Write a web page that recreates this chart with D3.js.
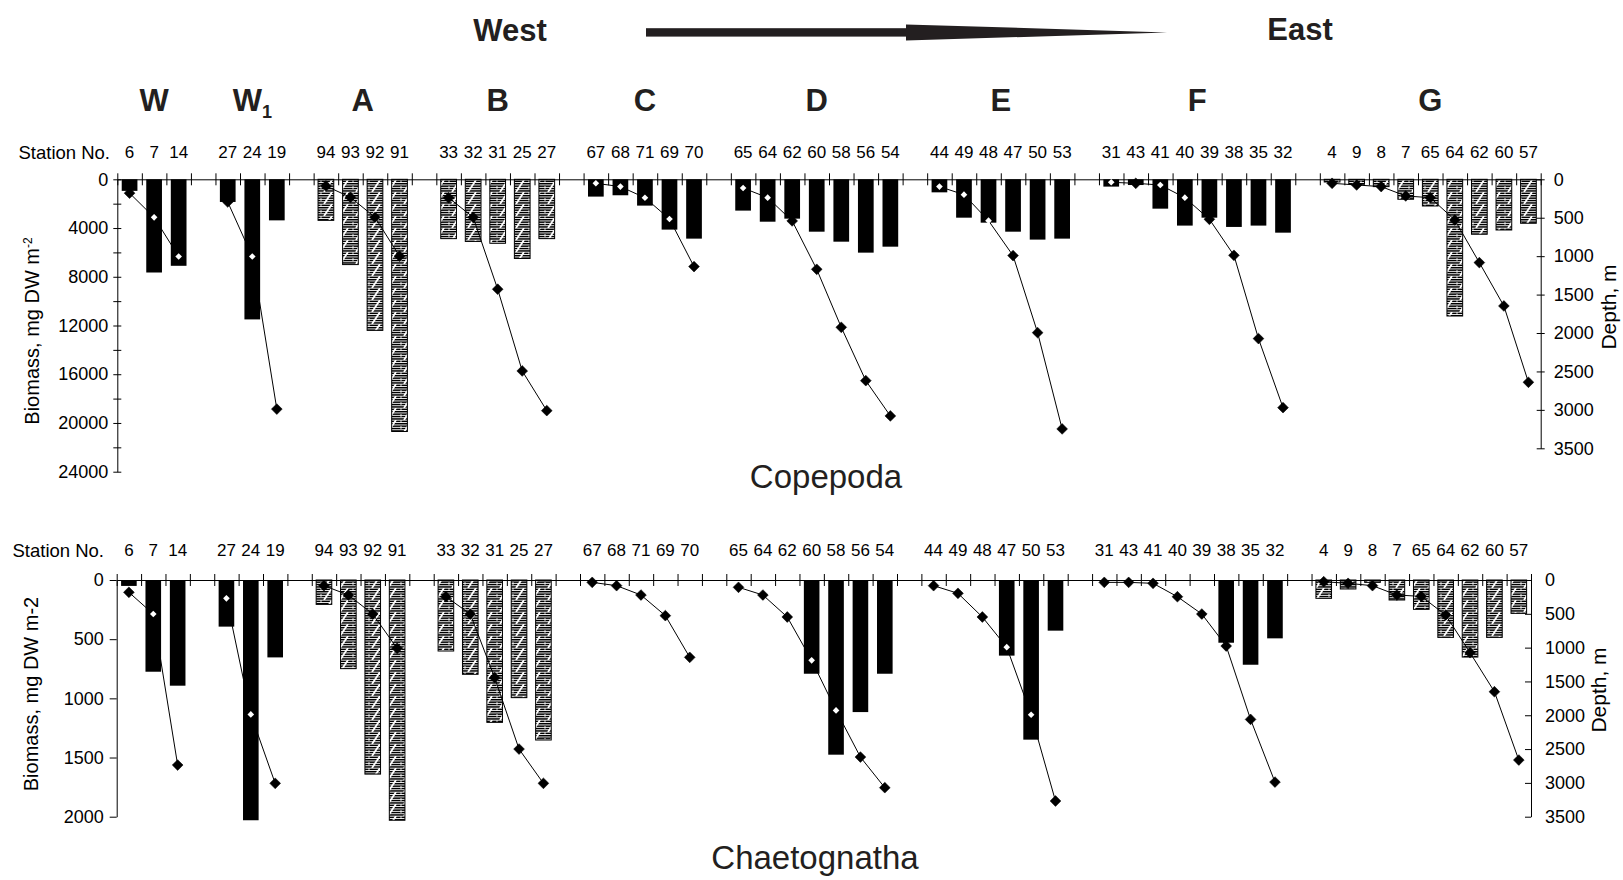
<!DOCTYPE html>
<html>
<head>
<meta charset="utf-8">
<script src="https://cdn.jsdelivr.net/npm/d3@7"></script>
<style>
    body { margin: 0; background: #fff; }
    text { font-family: "Liberation Sans", Arial, sans-serif; }
</style>
</head>
<body>
<div id="plot"></div>
<script>
/* Step 1
 * The data
 */
// =================================
var groups = ["W", "W1", "A", "B", "C", "D", "E", "F", "G"];
var stations = [
    [6, 7, 14],
    [27, 24, 19],
    [94, 93, 92, 91],
    [33, 32, 31, 25, 27],
    [67, 68, 71, 69, 70],
    [65, 64, 62, 60, 58, 56, 54],
    [44, 49, 48, 47, 50, 53],
    [31, 43, 41, 40, 39, 38, 35, 32],
    [4, 9, 8, 7, 65, 64, 62, 60, 57]
];
// groups drawn with the hatched fill
var hatchedGroups = ["A", "B", "G"];

// Copepoda biomass, mg DW m-2
var copepodaBiomass = [
    [950, 7650, 7100],
    [1860, 11500, 3370],
    [3370, 7000, 12400, 20700],
    [4870, 5100, 5250, 6500, 4870],
    [1420, 1310, 2160, 4130, 4870],
    [2570, 3480, 3230, 4300, 5120, 6020, 5530],
    [1070, 3150, 3560, 4300, 4950, 4870],
    [600, 470, 2410, 3800, 3150, 3910, 3800, 4380],
    [220, 410, 600, 1640, 2190, 11220, 4510, 4160, 3610]
];
// station depth, m (as plotted in the Copepoda panel)
var copepodaDepth = [
    [180, 495, 1005],
    [295, 1005, 2990],
    [87, 234, 494, 1000],
    [240, 494, 1430, 2494, 3010],
    [52, 95, 240, 516, 1136],
    [113, 239, 542, 1171, 1926, 2620, 3079],
    [95, 200, 538, 993, 1995, 3248],
    [39, 52, 74, 239, 520, 989, 2073, 2971],
    [52, 74, 95, 217, 239, 529, 1084, 1648, 2641]
];

// Chaetognatha biomass, mg DW m-2
var chaetoBiomass = [
    [50, 775, 893],
    [394, 2030, 654],
    [206, 749, 1640, 2030],
    [600, 797, 1203, 994, 1352],
    [0, 0, 0, 0, 0],
    [0, 0, 0, 792, 1476, 1116, 792],
    [0, 0, 0, 639, 1349, 428],
    [0, 0, 0, 0, 0, 530, 716, 493],
    [155, 76, 20, 169, 248, 485, 651, 485, 282]
];
// station depth, m (as plotted in the Chaetognatha panel)
var chaetoDepth = [
    [182, 503, 2736],
    [271, 1987, 3007],
    [84, 222, 503, 1011],
    [247, 503, 1444, 2500, 3007],
    [35, 84, 222, 527, 1144],
    [108, 222, 547, 1188, 1928, 2618, 3071],
    [84, 197, 547, 993, 1992, 3268],
    [35, 35, 49, 247, 503, 976, 2061, 2988],
    [25, 49, 84, 222, 242, 518, 1075, 1652, 2662]
];

var biomassTicksTop = [0, 2000, 4000, 6000, 8000, 10000, 12000, 14000, 16000, 18000, 20000, 22000, 24000];
var biomassTicksBottom = [0, 500, 1000, 1500, 2000];
var depthTicks = [0, 500, 1000, 1500, 2000, 2500, 3000, 3500];

/* Step 2
 * Slots: one per station, an empty one between groups
 */
// =================================
var slots = [];
var slotIndex = 0;
groups.forEach(function (g, gi) {
    stations[gi].forEach(function (s, si) {
        slots.push({ group: g, gi: gi, si: si, station: s, slot: slotIndex });
        slotIndex++;
    });
    if (gi < groups.length - 1) slotIndex++;
});
var nSlots = slotIndex;

var svg = d3.select("#plot")
    .append("svg")
    .attr("width", 1623)
    .attr("height", 880);

// hatched fill: horizontal dashes broken by a steep white zigzag
var pattern = svg.append("defs").append("pattern")
    .attr("id", "hatch")
    .attr("patternUnits", "userSpaceOnUse")
    .attr("width", 16)
    .attr("height", 12);
pattern.append("rect").attr("width", 16).attr("height", 12).attr("fill", "#fff");
[0.6, 3.0, 5.4, 7.8, 10.2].forEach(function (yy) {
    pattern.append("rect").attr("x", 0).attr("y", yy).attr("width", 16).attr("height", 1.5).attr("fill", "#000");
});
pattern.append("path").attr("d", "M12,0 L4,12").attr("stroke", "#fff").attr("stroke-width", 1.8);
pattern.append("path").attr("d", "M1,0 L1,12").attr("stroke", "#fff").attr("stroke-width", 0.8).attr("stroke-dasharray", "3,3");

/* Step 3
 * One panel: bars, zero axis, left and right axes, depth lines
 */
// =================================
function drawPanel(p) {
    var g = svg.append("g");

    var x = d3.scaleBand()
        .domain(d3.range(nSlots))
        .range([p.x0, p.x1])
        .paddingInner(0.36)
        .paddingOuter(0.18);
    var xEdge = d3.scaleLinear().domain([0, nSlots]).range([p.x0, p.x1]);
    var yBio = d3.scaleLinear().domain([0, p.bioMax]).range([p.y0, p.bioEnd]);
    var yDep = d3.scaleLinear().domain([0, 3500]).range([p.y0, p.depEnd]);
    var cx = d => x(d.slot) + x.bandwidth() / 2;
    var isHatched = d => hatchedGroups.indexOf(d.group) >= 0;

    // bars
    g.selectAll(".bar")
        .data(slots.filter(d => p.biomass[d.gi][d.si] > 0))
        .enter().append("rect")
        .attr("x", d => x(d.slot))
        .attr("y", p.y0)
        .attr("width", x.bandwidth())
        .attr("height", d => yBio(p.biomass[d.gi][d.si]) - p.y0)
        .attr("fill", d => isHatched(d) ? "url(#hatch)" : "#000")
        .attr("stroke", d => isHatched(d) ? "#000" : "none")
        .attr("stroke-width", 1);

    // zero line with a tick between every slot
    var gx = g.append("g")
        .attr("transform", `translate(0, ${p.y0})`)
        .call(d3.axisBottom(xEdge).tickValues(d3.range(nSlots + 1)).tickSize(6).tickSizeOuter(0).tickFormat(""));
    gx.selectAll(".tick line").attr("y1", -6).attr("stroke", "#000");
    gx.select(".domain").attr("stroke", "#000");

    // station numbers
    g.selectAll(".stn")
        .data(slots)
        .enter().append("text")
        .attr("x", cx)
        .attr("y", p.labelY)
        .attr("text-anchor", "middle")
        .attr("font-size", "17px")
        .attr("fill", "#000")
        .text(d => d.station);
    g.append("text")
        .attr("x", p.stationX)
        .attr("y", p.labelY + 1)
        .attr("text-anchor", "end")
        .attr("font-size", "18.5px")
        .text("Station No.");

    // left axis
    var gl = g.append("g")
        .attr("transform", `translate(${p.x0}, 0)`)
        .call(d3.axisLeft(yBio).tickValues(p.bioTicks).tickSize(p.leftTick).tickPadding(p.leftPad)
            .tickSizeOuter(0).tickFormat(v => v % p.labelEvery === 0 ? v : ""));
    gl.selectAll(".tick line").attr("x2", -p.leftTick).attr("x1", p.leftCross).attr("stroke", "#000");
    gl.selectAll("text").attr("font-size", "18px").attr("font-family", null).attr("fill", "#000");
    gl.select(".domain").attr("stroke", "#000");

    // right axis
    var gr = g.append("g")
        .attr("transform", `translate(${p.x1}, 0)`)
        .call(d3.axisRight(yDep).tickValues(depthTicks).tickSize(p.rightTick).tickPadding(p.rightPad)
            .tickSizeOuter(0).tickFormat(d3.format("d")));
    gr.selectAll(".tick line").attr("x1", -p.rightIn).attr("stroke", "#000");
    gr.selectAll("text").attr("font-size", "18px").attr("font-family", null).attr("fill", "#000");
    gr.select(".domain").attr("stroke", "#000");

    // depth lines, one per group
    var line = d3.line()
        .x(cx)
        .y(d => yDep(p.depth[d.gi][d.si]));
    groups.forEach(function (gName, gi) {
        g.append("path")
            .datum(slots.filter(d => d.gi === gi))
            .attr("d", line)
            .attr("fill", "none")
            .attr("stroke", "#000")
            .attr("stroke-width", 1);
    });

    // depth markers: white where they sit inside a black bar
    var inside = d => !isHatched(d) && yDep(p.depth[d.gi][d.si]) < yBio(p.biomass[d.gi][d.si]) - 2;
    g.selectAll(".mk")
        .data(slots)
        .enter().append("path")
        .attr("d", d => d3.symbol().type(d3.symbolSquare).size(inside(d) ? 22 : 58)())
        .attr("transform", d => `translate(${cx(d)}, ${yDep(p.depth[d.gi][d.si])}) rotate(45)`)
        .attr("fill", d => inside(d) ? "#fff" : "#000")
        .attr("stroke", d => inside(d) ? "none" : "#000")
        .attr("stroke-width", 0.5);

    // axis titles
    var lt = g.append("text")
        .attr("transform", `translate(${p.leftTitleX}, ${p.leftTitleY}) rotate(-90)`)
        .attr("text-anchor", "middle")
        .attr("font-size", "20px")
        .text(p.leftTitle);
    if (p.superscript) {
        lt.append("tspan").attr("dy", "-0.6em").attr("font-size", "12px").text(p.superscript);
    }
    g.append("text")
        .attr("transform", `translate(${p.rightTitleX}, ${p.rightTitleY}) rotate(-90)`)
        .attr("text-anchor", "middle")
        .attr("font-size", "21px")
        .text("Depth, m");

    // panel title
    g.append("text")
        .attr("x", p.titleX)
        .attr("y", p.titleY)
        .attr("text-anchor", "middle")
        .attr("font-size", "33px")
        .attr("fill", "#231f20")
        .text(p.title);

    return x;
}

var xTop = drawPanel({
    x0: 117.3, x1: 1540.7, y0: 179.3,
    bioMax: 24000, bioEnd: 471.7, depEnd: 448.3,
    biomass: copepodaBiomass, depth: copepodaDepth,
    bioTicks: biomassTicksTop, labelEvery: 4000,
    leftTick: 4, leftCross: 4, leftPad: 5,
    rightTick: 4, rightIn: 4, rightPad: 9,
    labelY: 158, stationX: 110,
    leftTitle: "Biomass, mg DW m", superscript: "-2", leftTitleX: 39, leftTitleY: 331,
    rightTitleX: 1616, rightTitleY: 307,
    title: "Copepoda", titleX: 826, titleY: 488
});

drawPanel({
    x0: 116.7, x1: 1531, y0: 580,
    bioMax: 2000, bioEnd: 816.7, depEnd: 816.7,
    biomass: chaetoBiomass, depth: chaetoDepth,
    bioTicks: biomassTicksBottom, labelEvery: 500,
    leftTick: 7, leftCross: 0, leftPad: 6,
    rightTick: 0, rightIn: 6, rightPad: 14,
    labelY: 556, stationX: 104,
    leftTitle: "Biomass, mg DW m-2", superscript: null, leftTitleX: 38, leftTitleY: 694,
    rightTitleX: 1606, rightTitleY: 690,
    title: "Chaetognatha", titleX: 815, titleY: 869
});

/* Step 4
 * Header: West -> East arrow and the group letters
 */
// =================================
var header = svg.append("g").attr("fill", "#231f20");
header.append("text")
    .attr("x", 510).attr("y", 40.5)
    .attr("text-anchor", "middle")
    .attr("font-size", "31px").attr("font-weight", "bold")
    .text("West");
header.append("text")
    .attr("x", 1300).attr("y", 40)
    .attr("text-anchor", "middle")
    .attr("font-size", "31px").attr("font-weight", "bold")
    .text("East");
header.append("rect")
    .attr("x", 646).attr("y", 28.2)
    .attr("width", 262).attr("height", 8.4);
header.append("path")
    .attr("d", "M906,24.4 L1167,32.4 L906,40.6 Z");

groups.forEach(function (gName, gi) {
    var gs = slots.filter(d => d.gi === gi);
    var first = xTop(gs[0].slot), last = xTop(gs[gs.length - 1].slot) + xTop.bandwidth();
    var t = header.append("text")
        .attr("x", (first + last) / 2)
        .attr("y", 111)
        .attr("text-anchor", "middle")
        .attr("font-size", "31px").attr("font-weight", "bold")
        .text(gName.charAt(0));
    if (gName.length > 1) {
        t.append("tspan").attr("dy", 7).attr("font-size", "18px").text(gName.slice(1));
    }
});
</script>
</body>
</html>
